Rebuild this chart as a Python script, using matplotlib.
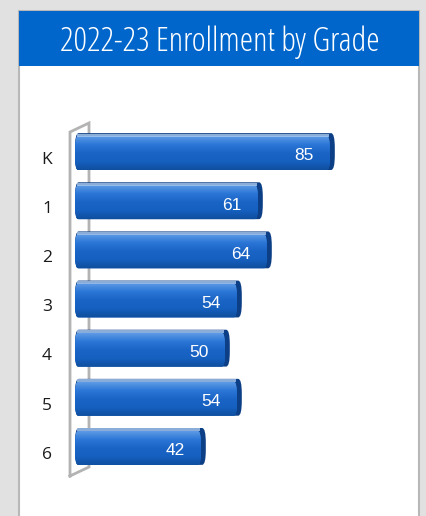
import numpy as np
import matplotlib
matplotlib.use("Agg")
import matplotlib.pyplot as plt
from matplotlib.patches import Rectangle, FancyBboxPatch
from matplotlib.colors import LinearSegmentedColormap

# ---- data ----
grades = ["K", "1", "2", "3", "4", "5", "6"]
enrollment = [85, 61, 64, 54, 50, 54, 42]
title = "2022-23 Enrollment by Grade"

W, H = 427, 516
fig = plt.figure(figsize=(W / 100, H / 100), dpi=100)
fig.patch.set_facecolor("#e1e1e1")

def px(x0, y0, w, h):
    return [x0 / W, 1 - (y0 + h) / H, w / W, h / H]

# panel
bg = fig.add_axes([0, 0, 1, 1])
bg.set_xlim(0, W); bg.set_ylim(H, 0); bg.axis("off")
bg.add_patch(Rectangle((19, 11), 400, 520, facecolor="white", edgecolor="#b8b8b8", lw=1.5))
bg.add_patch(Rectangle((19, 11), 400, 55, facecolor="#0066cc", edgecolor="none"))
bg.text(219.5, 42, title, color="white", fontsize=24.2, ha="center", va="center",
        family=["Open Sans", "DejaVu Sans"], fontweight="light", fontstretch="condensed")

# wall (3D axis)
wall_col = "#b3b3b3"
bg.plot([70, 70, 89, 89, 70], [476, 132, 123, 467, 476], color=wall_col, lw=2,
        zorder=1, solid_joinstyle="miter")

# chart axes: 3 px per unit
ax = fig.add_axes(px(75, 127, 330, 344))
n = len(grades)
ax.set_xlim(0, 110)
ax.set_ylim(n - 0.5, -0.5)
ax.axis("off")

cmap = LinearSegmentedColormap.from_list(
    "bar", ["#5d9ae6", "#2a76d6", "#1a64c6", "#1660c0", "#0f4f9f"])
grad = np.linspace(0, 1, 64).reshape(-1, 1)
bh = 0.75
for i, v in enumerate(enrollment):
    side = FancyBboxPatch((0, i - bh / 2), v + 1.6, bh,
                          boxstyle="round,pad=0,rounding_size=1.2",
                          mutation_aspect=0.25,
                          facecolor="#0c3f85", edgecolor="none", zorder=2)
    ax.add_patch(side)
    front = FancyBboxPatch((0, i - bh / 2 + 0.06), v, bh - 0.06,
                           boxstyle="round,pad=0,rounding_size=1.0",
                           mutation_aspect=0.25,
                           facecolor="#1a64c6", edgecolor="none", zorder=3)
    ax.add_patch(front)
    im = ax.imshow(grad, extent=(0, v, i + bh / 2, i - bh / 2 + 0.06), aspect="auto",
                   cmap=cmap, zorder=4, interpolation="bilinear")
    im.set_clip_path(front)
    ax.add_patch(Rectangle((0.8, i - bh / 2 + 0.01), v - 1.2, 0.06,
                           facecolor="#a9c8ee", edgecolor="none", alpha=0.8, zorder=5))
    ax.text(v - 5.5, i + 0.09, str(v), color="white", fontsize=12.5, ha="right", va="center",
            family="Liberation Sans", zorder=6)
    ax.text(-9.3, i + 0.17, grades[i], color="#1a1a1a", fontsize=12.5, ha="center",
            va="center", family=["Open Sans", "DejaVu Sans"], clip_on=False)

fig.savefig("out.png", dpi=100, facecolor=fig.get_facecolor())
